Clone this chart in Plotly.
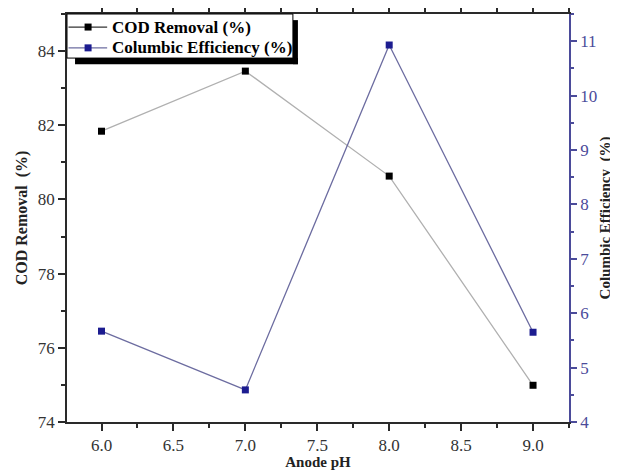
import plotly.graph_objects as go

ph = [6.0, 7.0, 8.0, 9.0]
cod_removal = [81.84, 83.46, 80.63, 74.99]
columbic_eff = [5.67, 4.59, 10.93, 5.65]
x_ticks = [6.0, 6.5, 7.0, 7.5, 8.0, 8.5, 9.0]
x_ticktext = ["6.0", "6.5", "7.0", "7.5", "8.0", "8.5", "9.0"]
y_ticks = [74, 76, 78, 80, 82, 84]
y2_ticks = [4, 5, 6, 7, 8, 9, 10, 11]
series_names = ["COD Removal (%)", "Columbic Efficiency (%)"]

FONT = "Liberation Serif"
BLUE = "#4b4b9a"
DARK = "#2a2a2a"
COD_LINE = "#b0b0b0"
CE_LINE = "#6c6ca0"
COD_MARK = "black"
CE_MARK = "#1c1c90"
TICKFONT = dict(family=FONT, size=17, color="#333")
TITLEFONT = dict(family=FONT, size=16, color="#222", weight="bold")

fig = go.Figure()
fig.add_trace(go.Scatter(
    x=ph, y=cod_removal, name=series_names[0], mode="lines+markers",
    line=dict(color=COD_LINE, width=1.3),
    marker=dict(symbol="square", size=7, color=COD_MARK),
    yaxis="y", showlegend=False))
fig.add_trace(go.Scatter(
    x=ph, y=columbic_eff, name=series_names[1], mode="lines+markers",
    line=dict(color=CE_LINE, width=1.3),
    marker=dict(symbol="square", size=7, color=CE_MARK),
    yaxis="y2", showlegend=False))

# page has an 8px body margin, so figure is 610x462 and offsets shifted by 8px
fig.update_layout(
    template="none",
    width=610, height=462,
    margin=dict(l=59, r=49, t=6, b=48, autoexpand=False),
    paper_bgcolor="white", plot_bgcolor="white",
    font=dict(family=FONT, size=17, color="#333"),
    showlegend=False,
    xaxis=dict(range=[5.76, 9.25], tickmode="array", tickvals=x_ticks, ticktext=x_ticktext,
               automargin=False, tickfont=TICKFONT,
               ticks="outside", ticklen=7, tickwidth=1.5, tickcolor=DARK,
               showline=True, linecolor=DARK, linewidth=1.5, mirror="ticks",
               showgrid=False, zeroline=False,
               minor=dict(dtick=0.25, tick0=0, ticks="outside", ticklen=4, tickcolor=DARK),
               title=dict(text="Anode pH", standoff=8,
                          font=dict(family=FONT, size=15, color="#222", weight="bold"))),
    yaxis=dict(range=[74, 85], tickmode="array", tickvals=y_ticks,
               automargin=False, tickfont=TICKFONT,
               ticks="outside", ticklen=7, tickwidth=1.5, tickcolor=DARK,
               showline=True, linecolor=DARK, linewidth=1.5,
               showgrid=False, zeroline=False,
               minor=dict(dtick=1, tick0=0, ticks="outside", ticklen=4, tickcolor=DARK),
               title=dict(text="COD Removal  (%)", standoff=6, font=TITLEFONT)),
    yaxis2=dict(range=[4, 11.5], overlaying="y", side="right",
                tickmode="array", tickvals=y2_ticks, automargin=False,
                tickfont=dict(family=FONT, size=17, color=BLUE),
                ticks="outside", ticklen=6, tickwidth=1.5, tickcolor=BLUE,
                showline=True, linecolor=BLUE, linewidth=1.5,
                showgrid=False, zeroline=False,
                minor=dict(dtick=0.5, tick0=0, ticks="outside", ticklen=3, tickcolor=BLUE),
                title=dict(text="Columbic Efficiency  (%)", standoff=3,
                           font=dict(family=FONT, size=15, color="#222", weight="bold"))),
)

# ---- hand-drawn legend box with drop shadow (positions in paper coords) ----
fig.add_shape(type="rect", xref="paper", yref="paper", x0=0.016, x1=0.460, y0=0.877, y1=0.892,
              fillcolor="black", line_width=0, layer="above")
fig.add_shape(type="rect", xref="paper", yref="paper", x0=0.450, x1=0.460, y0=0.877, y1=0.985,
              fillcolor="black", line_width=0, layer="above")
fig.add_shape(type="rect", xref="paper", yref="paper", x0=0.0, x1=0.450, y0=0.892, y1=1.0,
              fillcolor="white", line=dict(color="black", width=1), layer="above")

legend_rows = [(0.968, COD_MARK, "#333"), (0.917, CE_MARK, CE_LINE)]
for name, (yy, mcol, lcol) in zip(series_names, legend_rows):
    fig.add_shape(type="line", xref="paper", yref="paper", x0=0.003, x1=0.080, y0=yy, y1=yy,
                  line=dict(color=lcol, width=1.3), layer="above")
    fig.add_shape(type="rect", xref="paper", yref="paper",
                  xsizemode="pixel", ysizemode="pixel", xanchor=0.042, yanchor=yy,
                  x0=-3.5, x1=3.5, y0=-3.5, y1=3.5,
                  fillcolor=mcol, line_width=0, layer="above")
    fig.add_annotation(xref="paper", yref="paper", x=0.0857, y=yy, xanchor="left", yanchor="middle",
                       text="<b>" + name + "</b>", showarrow=False,
                       font=dict(family=FONT, size=17, color="black"))

fig.write_html("out.html")
